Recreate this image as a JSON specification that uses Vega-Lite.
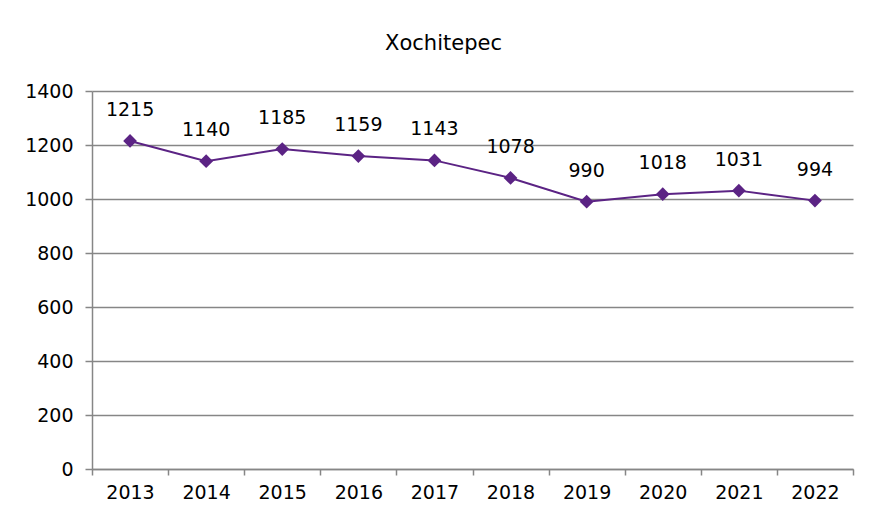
{
  "$schema": "https://vega.github.io/schema/vega-lite/v6.json",
  "autosize": {"type": "none"},
  "width": 761,
  "height": 378,
  "padding": {"left": 92, "top": 91, "right": 22, "bottom": 49},
  "background": "white",
  "title": {
    "text": "Xochitepec",
    "fontSize": 21,
    "font": "DejaVu Sans",
    "fontWeight": "normal",
    "color": "#000000",
    "anchor": "middle",
    "dx": -29,
    "offset": 28
  },
  "config": {
    "view": {"stroke": null},
    "font": "DejaVu Sans"
  },
  "data": {
    "values": [
      {"year": 2013, "value": 1215},
      {"year": 2014, "value": 1140},
      {"year": 2015, "value": 1185},
      {"year": 2016, "value": 1159},
      {"year": 2017, "value": 1143},
      {"year": 2018, "value": 1078},
      {"year": 2019, "value": 990},
      {"year": 2020, "value": 1018},
      {"year": 2021, "value": 1031},
      {"year": 2022, "value": 994}
    ]
  },
  "encoding": {
    "x": {
      "field": "year",
      "type": "quantitative",
      "scale": {"domain": [2012.5, 2022.5], "nice": false, "zero": false},
      "axis": {
        "title": null,
        "values": [2012.5, 2013.5, 2014.5, 2015.5, 2016.5, 2017.5, 2018.5, 2019.5, 2020.5, 2021.5, 2022.5],
        "labelExpr": "datum.value < 2022 ? format(datum.value + 0.5, 'd') : ''",
        "labelOffset": 38,
        "labelFlush": false,
        "labelOverlap": false,
        "labelFontSize": 19,
        "labelColor": "#000000",
        "labelPadding": 8,
        "grid": false,
        "domainColor": "#868686",
        "domainWidth": 1.5,
        "tickColor": "#868686",
        "tickWidth": 1.5,
        "tickSize": 6
      }
    },
    "y": {
      "field": "value",
      "type": "quantitative",
      "scale": {"domain": [0, 1400], "nice": false},
      "axis": {
        "title": null,
        "values": [0, 200, 400, 600, 800, 1000, 1200, 1400],
        "format": "d",
        "labelFontSize": 19,
        "labelColor": "#000000",
        "labelPadding": 12,
        "grid": true,
        "gridColor": "#868686",
        "gridWidth": 1.5,
        "domainColor": "#868686",
        "domainWidth": 1.5,
        "tickColor": "#868686",
        "tickWidth": 1.5,
        "tickSize": 7
      }
    }
  },
  "layer": [
    {
      "mark": {"type": "line", "color": "#5B2384", "strokeWidth": 2}
    },
    {
      "mark": {"type": "point", "shape": "diamond", "filled": true, "size": 190, "color": "#5B2384", "opacity": 1}
    },
    {
      "mark": {"type": "text", "dy": -31, "baseline": "middle", "align": "center", "fontSize": 19, "color": "#000000"},
      "encoding": {"text": {"field": "value", "type": "quantitative", "format": "d"}}
    }
  ]
}
